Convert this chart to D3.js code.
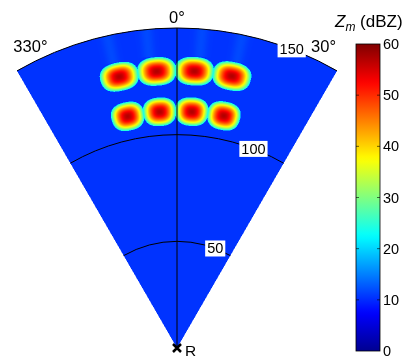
<!DOCTYPE html>
<html>
<head>
<meta charset="utf-8">
<script src="https://cdn.jsdelivr.net/npm/d3@7"></script>
<style>
  html, body { margin: 0; padding: 0; background: #fff; }
  #wrap { position: relative; width: 403px; height: 356px; overflow: hidden; }
  canvas, svg { position: absolute; left: 0; top: 0; }
  text { font-family: "Liberation Sans", Arial, sans-serif; fill: #000; }
</style>
</head>
<body>
<div id="wrap">
  <canvas id="field" width="403" height="356"></canvas>
  <svg id="chart" width="403" height="356"></svg>
</div>
<script>
// Storm cells: azimuth (deg from north), range (km), peak reflectivity (dBZ)
const cellAzimuth = [-12, -4.2, 3.6, 11.4, -12, -4.2, 3.6, 11.4];
const cellRange   = [130, 130, 130, 130, 111, 111, 111, 111];
const cellPeak    = [57, 57, 57, 57, 57, 57, 57, 57];
const cellHalfAz    = 4.0;   // deg
const cellHalfRange = 6.7;   // km
const cellEdgeDBZ   = 22;    // reflectivity at cell boundary
const backgroundDBZ = 10.5;
// weak echo trails behind the far row of cells
const trailAzimuth = [-12.6, -5.5, 4.5, 11.8];
const trailStartKm = 137;
const trailExtraDBZ = 1.3;

// Sector geometry and grid
const sectorAz = [-30, 30];
const maxRange = 150;
const rangeRings = [50, 100, 150];
const azimuthLines = [0];
const azimuthLabels = [{az: -30, text: "330°"}, {az: 0, text: "0°"}, {az: 30, text: "30°"}];
const colorTicks = [0, 10, 20, 30, 40, 50, 60];
const colorDomain = [0, 60];

// MATLAB-style jet colormap stops
const jetStops = [0, 0.125, 0.375, 0.625, 0.875, 1];
const jetColors = ["#000090", "#0000ff", "#00ffff", "#ffff00", "#ff0000", "#800000"];

const W = 403, H = 356;
const origin = {x: 177, y: 348};

const rScale = d3.scaleLinear().domain([0, maxRange]).range([0, 320]);
const jet = d3.scaleLinear()
  .domain(jetStops.map(s => colorDomain[0] + s * (colorDomain[1] - colorDomain[0])))
  .range(jetColors)
  .interpolate(d3.interpolateRgb)
  .clamp(true);

const rad = d => d * Math.PI / 180;
function polar(az, km) {
  const r = rScale(km);
  return [origin.x + r * Math.sin(rad(az)), origin.y - r * Math.cos(rad(az))];
}

// Reflectivity at a point of the sector
function reflectivity(az, km) {
  let z = backgroundDBZ;
  if (km > trailStartKm) {
    for (const a of trailAzimuth) {
      z += trailExtraDBZ * Math.exp(-Math.pow((az - a) / 1.2, 2));
    }
  }
  for (let i = 0; i < cellAzimuth.length; i++) {
    const u = Math.abs(az - cellAzimuth[i]) / cellHalfAz;
    const v = Math.abs(km - cellRange[i]) / cellHalfRange;
    if (u >= 1.2 || v >= 1.2) continue;
    const d = Math.pow(Math.pow(u, 2.5) + Math.pow(v, 2.5), 1 / 2.5);
    if (d < 1) {
      const val = cellPeak[i] - (cellPeak[i] - cellEdgeDBZ) * Math.pow(d, 1.9);
      if (val > z) z = val;
    }
  }
  return z;
}

// ---- field raster ----
const lut = d3.range(601).map(k => d3.rgb(jet(k / 10)));
const ctx = document.getElementById("field").getContext("2d");
const img = ctx.createImageData(W, H);
const rMax = rScale(maxRange);
const ss = [0.25, 0.75];   // 2x2 supersampling
for (let y = 0; y < H; y++) {
  for (let x = 0; x < W; x++) {
    let rs = 0, gs = 0, bs = 0, n = 0;
    for (const oy of ss) for (const ox of ss) {
      const dx = x + ox - origin.x, dy = origin.y - (y + oy);
      const r = Math.hypot(dx, dy);
      if (r > rMax) continue;
      const az = Math.atan2(dx, dy) * 180 / Math.PI;
      if (az < sectorAz[0] || az > sectorAz[1]) continue;
      const z = reflectivity(az, rScale.invert(r));
      const c = lut[Math.max(0, Math.min(600, Math.round(z * 10)))];
      rs += c.r; gs += c.g; bs += c.b; n++;
    }
    if (!n) continue;
    const p = (y * W + x) * 4;
    img.data[p] = rs / n; img.data[p + 1] = gs / n; img.data[p + 2] = bs / n;
    img.data[p + 3] = Math.round(255 * n / 4);
  }
}
ctx.putImageData(img, 0, 0);

// ---- vector overlay ----
const svg = d3.select("#chart");
const g = svg.append("g");

function arcPath(km) {
  const p = d3.path();
  p.arc(origin.x, origin.y, rScale(km), rad(sectorAz[0] - 90), rad(sectorAz[1] - 90));
  return p.toString();
}

g.selectAll("path.ring").data(rangeRings).join("path")
  .attr("class", "ring")
  .attr("d", arcPath)
  .attr("fill", "none").attr("stroke", "#000").attr("stroke-width", 1);

g.selectAll("line.spoke").data(azimuthLines).join("line")
  .attr("x1", origin.x).attr("y1", origin.y)
  .attr("x2", d => polar(d, maxRange)[0]).attr("y2", d => polar(d, maxRange)[1])
  .attr("stroke", "#000").attr("stroke-width", 1);

// range labels on white boxes
const labelAz = 21;
const rl = g.selectAll("g.rlab").data(rangeRings).join("g")
  .attr("transform", d => `translate(${polar(labelAz, d)})`);
rl.append("text").text(d => d)
  .attr("text-anchor", "middle").attr("dy", "0.35em").attr("font-size", 14.5);
rl.each(function () {
  const t = d3.select(this).select("text").node().getBBox();
  d3.select(this).insert("rect", "text")
    .attr("x", t.x - 2).attr("y", t.y).attr("width", t.width + 4).attr("height", t.height)
    .attr("fill", "#fff");
});

// azimuth labels
g.selectAll("text.azl").data(azimuthLabels).join("text")
  .attr("class", "azl")
  .attr("x", d => polar(d.az === 0 ? 0 : d.az * 0.865, 157)[0])
  .attr("y", d => polar(d.az === 0 ? 0 : d.az * 0.865, d.az === 0 ? 155 : 157.5)[1])
  .attr("text-anchor", "middle").attr("dy", "0.35em").attr("font-size", 16.5)
  .text(d => d.text);

// radar location
const xs = 4;
g.append("path")
  .attr("d", `M${origin.x - xs},${origin.y - xs}L${origin.x + xs},${origin.y + xs}M${origin.x - xs},${origin.y + xs}L${origin.x + xs},${origin.y - xs}`)
  .attr("stroke", "#000").attr("stroke-width", 2.5);
g.append("text").attr("x", origin.x + 8).attr("y", origin.y + 7.5)
  .attr("font-size", 15.5).text("R");

// ---- colour bar ----
const cb = {x: 356, y: 44, w: 24, h: 307};
const cbScale = d3.scaleLinear().domain(colorDomain).range([cb.y + cb.h, cb.y]);
const grad = svg.append("defs").append("linearGradient")
  .attr("id", "jetGrad").attr("x1", 0).attr("y1", 1).attr("x2", 0).attr("y2", 0);
grad.selectAll("stop").data(d3.range(0, 61, 1)).join("stop")
  .attr("offset", d => d / 60).attr("stop-color", d => jet(d));
svg.append("rect").attr("x", cb.x).attr("y", cb.y).attr("width", cb.w).attr("height", cb.h)
  .attr("fill", "url(#jetGrad)").attr("stroke", "#000").attr("stroke-width", 0.8);

const cbAxis = svg.append("g").attr("transform", `translate(${cb.x + cb.w},0)`)
  .call(d3.axisRight(cbScale).tickValues(colorTicks).tickSize(0).tickPadding(3));
cbAxis.select(".domain").remove();
cbAxis.selectAll("text").attr("font-size", 14.5).attr("font-family", "Liberation Sans, Arial, sans-serif");
svg.selectAll("line.tkL").data(colorTicks.slice(1, -1)).join("line")
  .attr("x1", cb.x).attr("x2", cb.x + 3).attr("y1", cbScale).attr("y2", cbScale)
  .attr("stroke", "#000").attr("stroke-width", 0.6);
svg.selectAll("line.tkR").data(colorTicks.slice(1, -1)).join("line")
  .attr("x1", cb.x + cb.w - 3).attr("x2", cb.x + cb.w).attr("y1", cbScale).attr("y2", cbScale)
  .attr("stroke", "#000").attr("stroke-width", 0.6);

// colour bar title
const title = svg.append("text").attr("x", 335).attr("y", 27).attr("font-size", 17);
title.append("tspan").attr("font-style", "italic").text("Z");
title.append("tspan").attr("font-style", "italic").attr("font-size", 12).attr("dy", 4).text("m");
title.append("tspan").attr("dy", -4).text(" (dBZ)");
</script>
</body>
</html>
